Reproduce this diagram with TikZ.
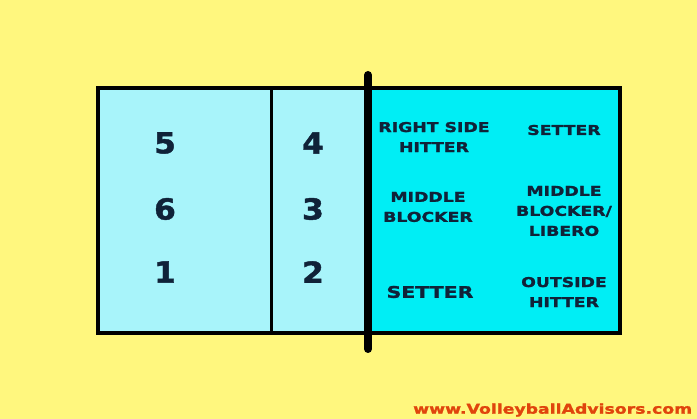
\documentclass[tikz,border=0pt]{standalone}
\usepackage{fontspec}
\setmainfont{DejaVu Sans}
\newfontfamily\widefont[FakeStretch=1.28,FakeBold=1.6]{DejaVu Sans Bold}
\newfontfamily\numfont[FakeStretch=1.08,FakeBold=1.5]{DejaVu Sans Bold}
\definecolor{bgyellow}{HTML}{FFF77E}
\definecolor{lightcourt}{HTML}{A8F4FA}
\definecolor{cyancourt}{HTML}{00EEF5}
\definecolor{labeltext}{HTML}{102238}
\definecolor{urlred}{HTML}{E0440C}
\begin{document}
\begin{tikzpicture}[x=1pt,y=-1pt,
  num/.style={font=\numfont\fontsize{29}{29}\selectfont,text=labeltext,inner sep=0pt},
  role/.style={font=\widefont\fontsize{13.5}{20}\selectfont,text=labeltext,align=center,inner sep=0pt},
  bigrole/.style={font=\widefont\fontsize{16}{20}\selectfont,text=labeltext,align=center,inner sep=0pt}]
\fill[bgyellow] (0,0) rectangle (697,419);
\useasboundingbox (0,0) rectangle (697,419);
% court halves
\fill[lightcourt] (98,88) rectangle (368,333);
\fill[cyancourt] (368,88) rectangle (620,333);
\coordinate (tl) at (98,88);
\coordinate (br) at (620,333);
\draw[line width=4pt] (tl) rectangle (br);
\coordinate (dtop) at (271,88);
\coordinate (dbot) at (271,333);
\draw[line width=3pt] (dtop) -- (dbot);
% roles
\node[role] (rsh) at (434,137) {RIGHT SIDE\\HITTER};
\node[role] (set1) at (564,130) {SETTER};
\node[role] (mb) at (428,207) {MIDDLE\\BLOCKER};
\node[role] (mbl) at (564,211) {MIDDLE\\BLOCKER/\\LIBERO};
\node[bigrole] (set2) at (430,292) {SETTER};
\node[role] (oh) at (564,292) {OUTSIDE\\HITTER};
% net
\coordinate (ntop) at (368,75);
\coordinate (nbot) at (368,349);
\draw[line width=8pt,line cap=round] (ntop) -- (nbot);
% numbers
\node[num] (n5) at (165,143) {5};
\node[num] (n4) at (313,143) {4};
\node[num] (n6) at (165,209) {6};
\node[num] (n3) at (313,209) {3};
\node[num] (n1) at (165,272) {1};
\node[num] (n2) at (313,272) {2};
\node[font=\widefont\fontsize{13.5}{13.5}\selectfont,text=urlred,anchor=west,inner sep=0pt] (url) at (413,410) {www.VolleyballAdvisors.com};
\end{tikzpicture}
\end{document}
